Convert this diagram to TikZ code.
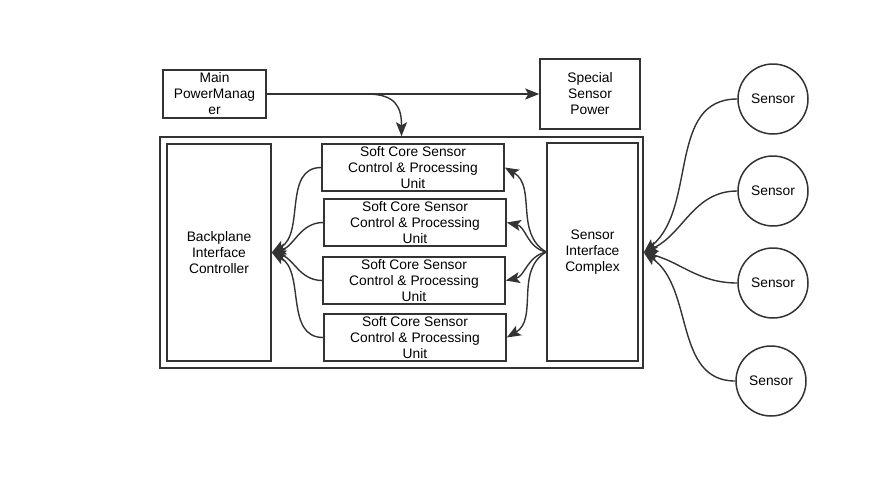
\documentclass[tikz,border=0pt]{standalone}
\usepackage{fontspec}
\setmainfont{Liberation Sans}
\usetikzlibrary{arrows.meta}

\begin{document}
\begin{tikzpicture}[x=1pt, y=-1pt,
  box/.style={draw=black!80, line width=1.5pt, align=center, inner sep=0pt,
    font=\fontsize{13.8}{16}\selectfont},
  sensor/.style={draw=black!80, circle, line width=1.5pt, minimum size=70pt,
    inner sep=0pt, font=\fontsize{13.8}{16}\selectfont},
  link/.style={draw=black!80, line width=1.4pt,
    -{Stealth[length=14pt, width=11pt, inset=3pt]}}]
   \useasboundingbox (0,0) rectangle (870,477);

   % power
   \node[box, minimum width=103pt, minimum height=48pt] (mpm) at (214.5,94) {Main\\PowerManag\\er};
   \node[box, minimum width=100pt, minimum height=70pt] (ssp) at (590,94) {Special\\Sensor\\Power};

   % board
   \node[box, minimum width=483pt, minimum height=231pt] (board) at (401.5,252.5) {};
   \node[box, minimum width=104pt, minimum height=217pt] (bic) at (219,252.5) {Backplane\\Interface\\Controller};
   \node[box, minimum width=182pt, minimum height=47pt] (sc1) at (413,167.5) {Soft Core Sensor\\Control \& Processing\\Unit};
   \node[box, minimum width=182pt, minimum height=47pt] (sc2) at (415,222.5) {Soft Core Sensor\\Control \& Processing\\Unit};
   \node[box, minimum width=182pt, minimum height=47pt] (sc3) at (414,280.5) {Soft Core Sensor\\Control \& Processing\\Unit};
   \node[box, minimum width=182pt, minimum height=47pt] (sc4) at (415,337.5) {Soft Core Sensor\\Control \& Processing\\Unit};
   \node[box, minimum width=91pt, minimum height=218pt] (sic) at (592.5,252) {Sensor\\Interface\\Complex};

   % sensors
   \node[sensor] (s1) at (773,99) {Sensor};
   \node[sensor] (s2) at (773,191) {Sensor};
   \node[sensor] (s3) at (773,283) {Sensor};
   \node[sensor] (s4) at (771,381) {Sensor};

   \draw[link] (mpm.east) -- (ssp.west);
   \draw[link] (mpm.east) -- ++(100,0) .. controls +(30,0) and +(0,-28) .. (board.north);

   % into and out of the soft cores
   \foreach \sc/\a/\b in {sc1/30/-30, sc2/15/-12, sc3/-15/12, sc4/-30/30} {
     \draw[link] (\sc.west) to[out=180, in=\a] (bic.east);
     \draw[link] (sic.west) to[out=180+\b, in=\b] (\sc.east);
   }
   \foreach \s/\a in {s1/40, s2/25, s3/-15, s4/-35}
     \draw[link] (\s.west) to[out=180, in=\a] (board.east);
\end{tikzpicture}
\end{document}
